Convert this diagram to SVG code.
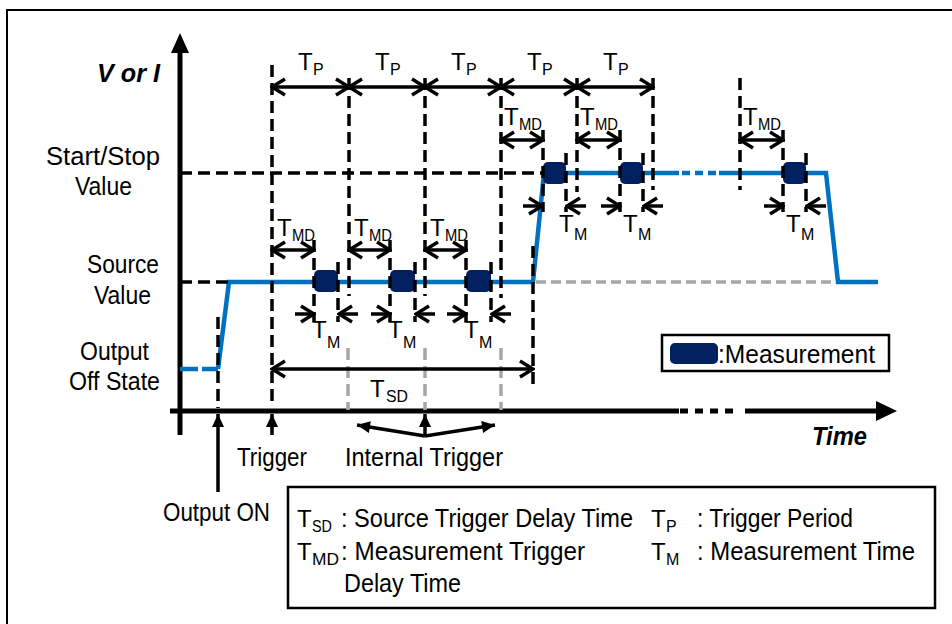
<svg xmlns="http://www.w3.org/2000/svg" width="952" height="624" viewBox="0 0 952 624">
<style>
text{font-family:"Liberation Sans Narrow","Liberation Sans",Arial,sans-serif;fill:#000}
.t{font-size:24px}
.L{font-size:25px}
.sub{font-size:16px}
.bi{font-size:26px;font-weight:bold;font-style:italic}
.dash{stroke:#000;stroke-width:3.5;stroke-dasharray:12 6;fill:none}
.gdash{stroke:#A6A6A6;stroke-width:3.5;stroke-dasharray:12 6;fill:none}
.blue{stroke:#0070C0;stroke-width:4.5;fill:none;stroke-linejoin:miter}
.dbl{stroke:#000;stroke-width:3.5;fill:none;marker-start:url(#ch);marker-end:url(#ch)}
.one{stroke:#000;stroke-width:3.5;fill:none;marker-end:url(#ch)}
.trg{stroke:#000;stroke-width:3.5;fill:none;marker-end:url(#fa)}
.meas{fill:#002060}
.axis{stroke:#000;stroke-width:5;fill:none}
</style>
<defs>
<marker id="ch" viewBox="-16 -10 18 20" refX="0" refY="0" markerWidth="18" markerHeight="20" markerUnits="userSpaceOnUse" orient="auto-start-reverse">
<path d="M-13,-8 L0,0 L-13,8" fill="none" stroke="#000" stroke-width="3.5"/>
</marker>
<marker id="fa" viewBox="-14 -8 16 16" refX="0" refY="0" markerWidth="16" markerHeight="16" markerUnits="userSpaceOnUse" orient="auto">
<path d="M-13,-6 L0,0 L-13,6 z" fill="#000"/>
</marker>
</defs>
<rect x="7" y="10" width="1000" height="700" fill="#fff" stroke="#000" stroke-width="2"/>

<g id="axes">
<line class="axis" x1="180" y1="50" x2="180" y2="435"/>
<path d="M180,33 L171,53 L189,53 z" fill="#000"/>
<line class="axis" x1="170" y1="411" x2="679" y2="411"/>
<line class="axis" x1="680" y1="411" x2="740" y2="411" style="stroke-dasharray:8 7"/>
<line class="axis" x1="745" y1="411" x2="878" y2="411"/>
<path d="M897,411 L876,401 L876,421 z" fill="#000"/>
</g>

<g id="labels">
<text class="bi" x="97" y="82" textLength="63" lengthAdjust="spacingAndGlyphs">V or I</text>
<text class="L" x="46" y="165" textLength="114" lengthAdjust="spacingAndGlyphs">Start/Stop</text>
<text class="L" x="75" y="195" textLength="57" lengthAdjust="spacingAndGlyphs">Value</text>
<text class="L" x="87" y="273" textLength="72" lengthAdjust="spacingAndGlyphs">Source</text>
<text class="L" x="94" y="304" textLength="57" lengthAdjust="spacingAndGlyphs">Value</text>
<text class="L" x="80" y="360" textLength="69" lengthAdjust="spacingAndGlyphs">Output</text>
<text class="L" x="69" y="390" textLength="91" lengthAdjust="spacingAndGlyphs">Off State</text>
<text class="L" x="237" y="466" textLength="70" lengthAdjust="spacingAndGlyphs">Trigger</text>
<text class="L" x="345" y="466" textLength="158" lengthAdjust="spacingAndGlyphs">Internal Trigger</text>
<text class="L" x="163" y="521" textLength="107" lengthAdjust="spacingAndGlyphs">Output ON</text>
<text class="bi" x="812" y="445" textLength="55" lengthAdjust="spacingAndGlyphs">Time</text>
</g>

<g id="signal">
<path class="blue" d="M180,369 L218,369" style="stroke-dasharray:18 4"/>
<path class="blue" d="M218,369 L229,282 L533,282 L544,173 L679,173"/>
<path class="blue" d="M682,173 L716,173" style="stroke-dasharray:8 5"/>
<path class="blue" d="M719,173 L826,173 L838,282 L878,282"/>
<line class="gdash" x1="536" y1="282" x2="836" y2="282" style="stroke-dasharray:10 5"/>
</g>

<g id="measurements">
<rect class="meas" x="314" y="270" width="24" height="22" rx="5"/>
<rect class="meas" x="390" y="270" width="25" height="22" rx="5"/>
<rect class="meas" x="466" y="270" width="25" height="22" rx="5"/>
<rect class="meas" x="543" y="162" width="23" height="22" rx="5"/>
<rect class="meas" x="620" y="162" width="23" height="22" rx="5"/>
<rect class="meas" x="783" y="162" width="23" height="22" rx="5"/>
</g>

<g id="connectors">
<line class="dash" x1="180" y1="173" x2="542" y2="173"/>
<line class="dash" x1="180" y1="282" x2="228" y2="282"/>
<line class="dash" x1="272" y1="65" x2="272" y2="406"/>
<line class="dash" x1="349" y1="78" x2="349" y2="296"/>
<line class="dash" x1="425" y1="78" x2="425" y2="296"/>
<line class="dash" x1="501" y1="78" x2="501" y2="298"/>
<line class="dash" x1="577" y1="78" x2="577" y2="192"/>
<line class="dash" x1="653" y1="78" x2="653" y2="190"/>
<line class="dash" x1="740" y1="78" x2="740" y2="190"/>
<line class="dash" x1="533" y1="246" x2="533" y2="386"/>
<line class="dash" x1="218" y1="317" x2="218" y2="408"/>
<line class="gdash" x1="348" y1="348" x2="348" y2="410"/>
<line class="gdash" x1="425" y1="348" x2="425" y2="410"/>
<line class="gdash" x1="501" y1="348" x2="501" y2="410"/>
<line class="dash" x1="314" y1="240" x2="314" y2="322"/>
<line class="dash" x1="338" y1="262" x2="338" y2="322"/>
<line class="dash" x1="390" y1="240" x2="390" y2="322"/>
<line class="dash" x1="415" y1="262" x2="415" y2="322"/>
<line class="dash" x1="466" y1="240" x2="466" y2="322"/>
<line class="dash" x1="491" y1="262" x2="491" y2="322"/>
<line class="dash" x1="543" y1="130" x2="543" y2="212"/>
<line class="dash" x1="566" y1="153" x2="566" y2="212"/>
<line class="dash" x1="620" y1="130" x2="620" y2="212"/>
<line class="dash" x1="643" y1="153" x2="643" y2="212"/>
<line class="dash" x1="783" y1="130" x2="783" y2="212"/>
<line class="dash" x1="806" y1="153" x2="806" y2="212"/>
<line class="dbl" x1="272" y1="87" x2="349" y2="87"/>
<line class="dbl" x1="349" y1="87" x2="425" y2="87"/>
<line class="dbl" x1="425" y1="87" x2="501" y2="87"/>
<line class="dbl" x1="501" y1="87" x2="577" y2="87"/>
<line class="dbl" x1="577" y1="87" x2="653" y2="87"/>
<line class="dbl" x1="272" y1="250" x2="314" y2="250"/>
<line class="dbl" x1="349" y1="250" x2="390" y2="250"/>
<line class="dbl" x1="425" y1="250" x2="466" y2="250"/>
<line class="dbl" x1="501" y1="140" x2="543" y2="140"/>
<line class="dbl" x1="577" y1="140" x2="620" y2="140"/>
<line class="dbl" x1="740" y1="140" x2="783" y2="140"/>
<line class="one" x1="295" y1="314" x2="314" y2="314"/>
<line class="one" x1="358" y1="314" x2="339" y2="314"/>
<line class="one" x1="371" y1="314" x2="390" y2="314"/>
<line class="one" x1="435" y1="314" x2="416" y2="314"/>
<line class="one" x1="447" y1="314" x2="466" y2="314"/>
<line class="one" x1="511" y1="314" x2="492" y2="314"/>
<line class="one" x1="523" y1="206" x2="542" y2="206"/>
<line class="one" x1="586" y1="206" x2="567" y2="206"/>
<line class="one" x1="601" y1="206" x2="620" y2="206"/>
<line class="one" x1="663" y1="206" x2="644" y2="206"/>
<line class="one" x1="764" y1="206" x2="783" y2="206"/>
<line class="one" x1="826" y1="206" x2="807" y2="206"/>
<line class="dbl" x1="272" y1="369" x2="533" y2="369"/>
<line class="trg" x1="218" y1="492" x2="218" y2="414"/>
<line class="trg" x1="272" y1="435" x2="272" y2="414"/>
<line class="trg" x1="425" y1="436" x2="425" y2="414"/>
<line class="trg" x1="425" y1="436" x2="357" y2="425"/>
<line class="trg" x1="425" y1="436" x2="495" y2="425"/>
</g>

<g id="timing-labels">
<text class="t" x="298" y="70">T</text><text class="sub" x="313" y="75">P</text>
<text class="t" x="375" y="70">T</text><text class="sub" x="390" y="75">P</text>
<text class="t" x="451" y="70">T</text><text class="sub" x="466" y="75">P</text>
<text class="t" x="527" y="70">T</text><text class="sub" x="542" y="75">P</text>
<text class="t" x="603" y="70">T</text><text class="sub" x="618" y="75">P</text>

<text class="t" x="277" y="236">T</text><text class="sub" x="292" y="241" textLength="23" lengthAdjust="spacingAndGlyphs">MD</text>
<text class="t" x="354" y="236">T</text><text class="sub" x="369" y="241" textLength="23" lengthAdjust="spacingAndGlyphs">MD</text>
<text class="t" x="430" y="236">T</text><text class="sub" x="445" y="241" textLength="23" lengthAdjust="spacingAndGlyphs">MD</text>
<text class="t" x="504" y="125">T</text><text class="sub" x="519" y="130" textLength="23" lengthAdjust="spacingAndGlyphs">MD</text>
<text class="t" x="580" y="125">T</text><text class="sub" x="595" y="130" textLength="23" lengthAdjust="spacingAndGlyphs">MD</text>
<text class="t" x="743" y="125">T</text><text class="sub" x="758" y="130" textLength="23" lengthAdjust="spacingAndGlyphs">MD</text>

<text class="t" x="312" y="338">T</text><text class="sub" x="327" y="348">M</text>
<text class="t" x="388" y="338">T</text><text class="sub" x="403" y="348">M</text>
<text class="t" x="464" y="338">T</text><text class="sub" x="479" y="348">M</text>
<text class="t" x="559" y="232">T</text><text class="sub" x="574" y="240">M</text>
<text class="t" x="623" y="232">T</text><text class="sub" x="638" y="240">M</text>
<text class="t" x="786" y="232">T</text><text class="sub" x="801" y="240">M</text>

<text class="t" x="370" y="397">T</text><text class="sub" x="386" y="402" textLength="22" lengthAdjust="spacingAndGlyphs">SD</text>
</g>

<g id="measurement-legend">
<rect x="662" y="335" width="227" height="36" fill="#fff" stroke="#000" stroke-width="2.5"/>
<rect class="meas" x="670" y="343" width="48" height="21" rx="5"/>
<text class="L" x="718" y="363" textLength="157" lengthAdjust="spacingAndGlyphs">:Measurement</text>
</g>

<g id="legend">
<rect x="288" y="487" width="647" height="121" fill="#fff" stroke="#000" stroke-width="2.5"/>
<text class="t" x="297" y="527">T</text><text class="sub" x="312" y="532" textLength="20" lengthAdjust="spacingAndGlyphs">SD</text>
<text class="L" x="341" y="527" textLength="292" lengthAdjust="spacingAndGlyphs">: Source Trigger Delay Time</text>
<text class="t" x="651" y="527">T</text><text class="sub" x="666" y="532">P</text>
<text class="L" x="697" y="527" textLength="156" lengthAdjust="spacingAndGlyphs">: Trigger Period</text>
<text class="t" x="297" y="560">T</text><text class="sub" x="312" y="565" textLength="27" lengthAdjust="spacingAndGlyphs">MD</text>
<text class="L" x="341" y="560" textLength="244" lengthAdjust="spacingAndGlyphs">: Measurement Trigger</text>
<text class="t" x="651" y="560">T</text><text class="sub" x="666" y="565">M</text>
<text class="L" x="697" y="560" textLength="218" lengthAdjust="spacingAndGlyphs">: Measurement Time</text>
<text class="L" x="344" y="592" textLength="117" lengthAdjust="spacingAndGlyphs">Delay Time</text>
</g>
</svg>
